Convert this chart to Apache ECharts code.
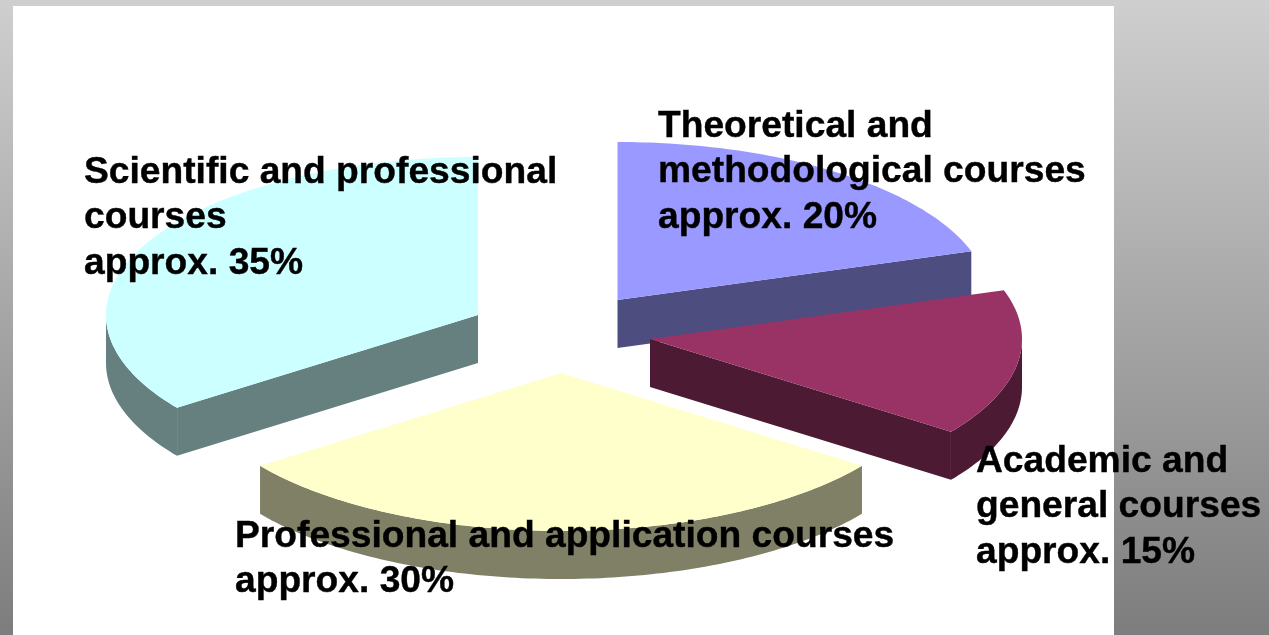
<!DOCTYPE html>
<html>
<head>
<meta charset="utf-8">
<style>
  html, body { margin: 0; padding: 0; background: #fff; }
  #chart { width: 1269px; height: 635px; }
</style>
<script src="https://cdn.jsdelivr.net/npm/echarts@6/dist/echarts.min.js"></script>
</head>
<body>
<div id="chart"></div>
<script>
// shares, clockwise from 12 o'clock
const categories = ['Theoretical and methodological courses', 'Academic and general courses', 'Scientific and professional courses', 'Professional and application courses']
const shares = [20, 15, 35, 30]
const startShares = [0, 20, 65, 35]

const labelLines = [
  ['Theoretical and', 'methodological courses', 'approx. 20%'],
  ['Academic and', 'general courses', 'approx. 15%'],
  ['Scientific and professional', 'courses', 'approx. 35%'],
  ['Professional and application courses', 'approx. 30%']
]

// layout and colours
const apex = [[617.5, 300], [650, 339], [478, 315], [561, 373]]
const labelPos = [[658, 108], [976, 443], [84, 154], [235, 518]]
const topColors = ['#9999ff', '#993366', '#ccffff', '#ffffcc']
const sideColors = ['#4d4d80', '#4d1a33', '#668080', '#808066']
const RX = 372
const RY = 158
const DEPTH = 48
const FONT_SIZE = 37.2
const LINE_H = 45.5

const rimPoint = (c, deg, dy) => {
  const a = deg * Math.PI / 180
  return [c[0] + RX * Math.sin(a), c[1] - RY * Math.cos(a) + dy]
}

function renderSlice(params, api) {
  const i = api.value(0)
  const from = api.value(1) * 3.6
  const to = from + api.value(2) * 3.6
  const c = apex[i]
  const top = [c]
  for (let d = from; d < to; d += 1) top.push(rimPoint(c, d, 0))
  top.push(rimPoint(c, to, 0))

  const children = []
  const addPoly = (points, fill) => children.push({
    type: 'polygon',
    shape: { points },
    style: { fill }
  })
  const addCut = d => {
    const p = rimPoint(c, d, 0)
    addPoly([c, p, [p[0], p[1] + DEPTH], [c[0], c[1] + DEPTH]], sideColors[i])
  }

  // cut faces, only those turned towards the viewer
  if (from > 180) addCut(from)
  if (to < 180) addCut(to)
  // outer wall, only the front half shows
  const wallFrom = Math.max(from, 90)
  const wallTo = Math.min(to, 270)
  if (wallTo > wallFrom) {
    const upper = []
    const lower = []
    for (let d = wallFrom; d < wallTo; d += 1) {
      upper.push(rimPoint(c, d, 0))
      lower.unshift(rimPoint(c, d, DEPTH))
    }
    upper.push(rimPoint(c, wallTo, 0))
    lower.unshift(rimPoint(c, wallTo, DEPTH))
    addPoly(upper.concat(lower), sideColors[i])
  }
  addPoly(top, topColors[i])
  return { type: 'group', children }
}

const chart = echarts.init(document.getElementById('chart'))

const graphics = [
  {
    type: 'rect', z: -2, silent: true,
    shape: { x: 0, y: 0, width: 1269, height: 635 },
    style: { fill: new echarts.graphic.LinearGradient(0, 0, 0, 1, [
      { offset: 0, color: '#cfcfcf' },
      { offset: 1, color: '#7d7d7d' }
    ]) }
  },
  {
    type: 'rect', z: -1, silent: true,
    shape: { x: 13, y: 6, width: 1101, height: 629 },
    style: { fill: '#ffffff' }
  }
]
labelLines.forEach((lines, i) => {
  lines.forEach((line, j) => {
    graphics.push({
      type: 'text', z: 10, silent: true,
      x: labelPos[i][0],
      y: labelPos[i][1] + j * LINE_H,
      style: {
        text: line,
        fill: '#000',
        stroke: '#000',
        lineWidth: 0.4,
        font: 'bold ' + FONT_SIZE + 'px "Liberation Sans", Arial, sans-serif'
      }
    })
  })
})

chart.setOption({
  animation: false,
  graphic: graphics,
  series: [{
    type: 'custom',
    coordinateSystem: 'none',
    renderItem: renderSlice,
    silent: true,
    z: 2,
    data: categories.map((name, i) => ({ name, value: [i, startShares[i], shares[i]] }))
  }]
})
</script>
</body>
</html>
